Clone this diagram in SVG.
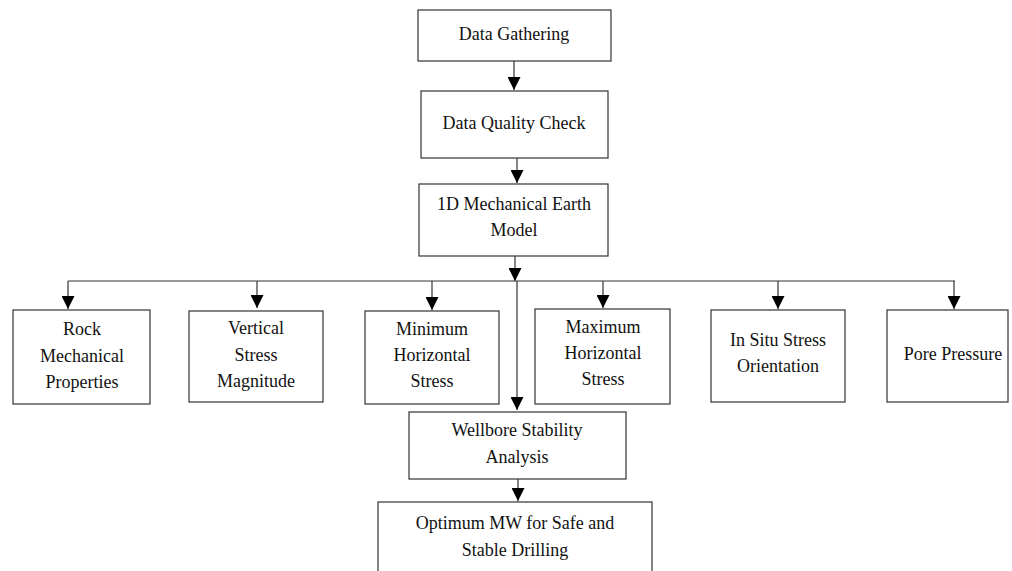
<svg xmlns="http://www.w3.org/2000/svg" width="1012" height="571" viewBox="0 0 1012 571">
<style>
.box{fill:#fff;stroke:#333;stroke-width:1.2}
.t{font-family:"Liberation Serif","Times New Roman",serif;font-size:18px;fill:#111;text-anchor:middle}
.c{fill:none;stroke:#333;stroke-width:1.2}
</style>
<defs>
<marker id="ah" markerUnits="userSpaceOnUse" markerWidth="14" markerHeight="13" refX="13" refY="6.5" orient="auto">
<path d="M0,0 L13,6.5 L0,13 Z" fill="#000"/>
</marker>
</defs>
<rect width="1012" height="571" fill="#fff"/>
<g id="connectors">
<line class="c" x1="514" y1="61" x2="514" y2="90" marker-end="url(#ah)"/>
<line class="c" x1="517" y1="158" x2="517" y2="183" marker-end="url(#ah)"/>
<line class="c" x1="515" y1="256" x2="515" y2="281" marker-end="url(#ah)"/>
<line class="c" x1="68" y1="281" x2="955" y2="281"/>
<line class="c" x1="68" y1="281" x2="68" y2="309" marker-end="url(#ah)"/>
<line class="c" x1="257" y1="281" x2="257" y2="308" marker-end="url(#ah)"/>
<line class="c" x1="432" y1="281" x2="432" y2="310" marker-end="url(#ah)"/>
<line class="c" x1="603" y1="281" x2="603" y2="308" marker-end="url(#ah)"/>
<line class="c" x1="778" y1="281" x2="778" y2="309" marker-end="url(#ah)"/>
<line class="c" x1="954" y1="281" x2="954" y2="309" marker-end="url(#ah)"/>
<line class="c" x1="517" y1="281" x2="517" y2="410" marker-end="url(#ah)"/>
<line class="c" x1="518" y1="479" x2="518" y2="501" marker-end="url(#ah)"/>
</g>
<g id="data-gathering">
<rect class="box" x="418" y="10" width="193" height="51"/>
<text class="t" x="514" y="40">Data Gathering</text>
</g>
<g id="data-quality">
<rect class="box" x="421" y="91" width="187" height="67"/>
<text class="t" x="514" y="129">Data Quality Check</text>
</g>
<g id="mem">
<rect class="box" x="419" y="184" width="189" height="72"/>
<text class="t" x="514" y="210">1D Mechanical Earth</text>
<text class="t" x="514" y="236">Model</text>
</g>
<g id="rock">
<rect class="box" x="13" y="310" width="137" height="94"/>
<text class="t" x="82" y="335">Rock</text>
<text class="t" x="82" y="362">Mechanical</text>
<text class="t" x="82" y="388">Properties</text>
</g>
<g id="vertical">
<rect class="box" x="189" y="311" width="134" height="91"/>
<text class="t" x="256" y="334">Vertical</text>
<text class="t" x="256" y="361">Stress</text>
<text class="t" x="256" y="387">Magnitude</text>
</g>
<g id="minimum">
<rect class="box" x="365" y="311" width="134" height="93"/>
<text class="t" x="432" y="335">Minimum</text>
<text class="t" x="432" y="361">Horizontal</text>
<text class="t" x="432" y="387">Stress</text>
</g>
<g id="maximum">
<rect class="box" x="535" y="309" width="135" height="95"/>
<text class="t" x="603" y="333">Maximum</text>
<text class="t" x="603" y="359">Horizontal</text>
<text class="t" x="603" y="385">Stress</text>
</g>
<g id="insitu">
<rect class="box" x="711" y="310" width="134" height="92"/>
<text class="t" x="778" y="346">In Situ Stress</text>
<text class="t" x="778" y="372">Orientation</text>
</g>
<g id="pore">
<rect class="box" x="887" y="310" width="121" height="92"/>
<text class="t" x="953" y="360">Pore Pressure</text>
</g>
<g id="wellbore">
<rect class="box" x="409" y="412" width="217" height="67"/>
<text class="t" x="517" y="436">Wellbore Stability</text>
<text class="t" x="517" y="463">Analysis</text>
</g>
<g id="optimum">
<rect class="box" x="378" y="502" width="274" height="80"/>
<text class="t" x="515" y="529">Optimum MW for Safe and</text>
<text class="t" x="515" y="556">Stable Drilling</text>
</g>
</svg>
